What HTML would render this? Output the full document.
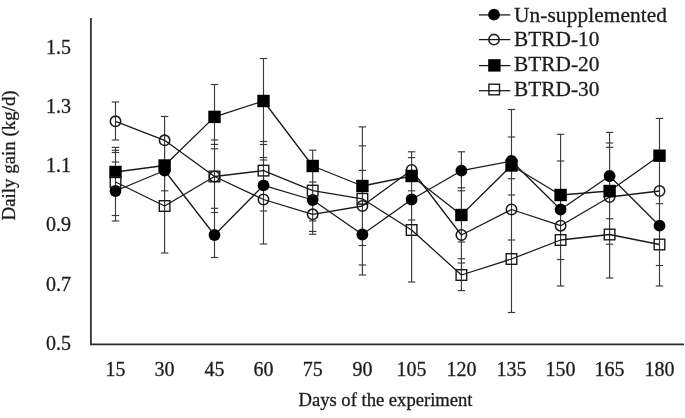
<!DOCTYPE html>
<html lang="en"><head><meta charset="utf-8"><title>Daily gain chart</title>
<style>html,body{margin:0;padding:0;background:#fff}body{width:685px;height:418px;overflow:hidden}svg{display:block;filter:grayscale(1)}text{font-family:"Liberation Serif","Times New Roman",serif;fill:#1c1c1c;stroke:#1c1c1c;stroke-width:.3px}</style></head><body>
<svg width="685" height="418" viewBox="0 0 685 418">
<rect width="685" height="418" fill="#fff"/>
<g stroke="#3a3a3a" stroke-width="1.15" fill="none">
<line x1="115.5" y1="102.0" x2="115.5" y2="140.0"/>
<line x1="115.5" y1="147.4" x2="115.5" y2="221.0"/>
<line x1="111.8" y1="102.0" x2="119.2" y2="102.0"/>
<line x1="111.8" y1="140.0" x2="119.2" y2="140.0"/>
<line x1="111.8" y1="147.4" x2="119.2" y2="147.4"/>
<line x1="111.8" y1="150.3" x2="119.2" y2="150.3"/>
<line x1="111.8" y1="152.5" x2="119.2" y2="152.5"/>
<line x1="111.8" y1="162.0" x2="119.2" y2="162.0"/>
<line x1="111.8" y1="215.5" x2="119.2" y2="215.5"/>
<line x1="111.8" y1="221.0" x2="119.2" y2="221.0"/>
<line x1="164.6" y1="116.5" x2="164.6" y2="253.0"/>
<line x1="160.9" y1="116.5" x2="168.3" y2="116.5"/>
<line x1="160.9" y1="190.8" x2="168.3" y2="190.8"/>
<line x1="160.9" y1="253.0" x2="168.3" y2="253.0"/>
<line x1="214.5" y1="84.5" x2="214.5" y2="257.5"/>
<line x1="210.8" y1="84.5" x2="218.2" y2="84.5"/>
<line x1="210.8" y1="140.0" x2="218.2" y2="140.0"/>
<line x1="210.8" y1="144.4" x2="218.2" y2="144.4"/>
<line x1="210.8" y1="148.8" x2="218.2" y2="148.8"/>
<line x1="210.8" y1="208.3" x2="218.2" y2="208.3"/>
<line x1="210.8" y1="212.5" x2="218.2" y2="212.5"/>
<line x1="210.8" y1="257.5" x2="218.2" y2="257.5"/>
<line x1="263.5" y1="58.5" x2="263.5" y2="244.0"/>
<line x1="259.8" y1="58.5" x2="267.2" y2="58.5"/>
<line x1="259.8" y1="141.5" x2="267.2" y2="141.5"/>
<line x1="259.8" y1="144.5" x2="267.2" y2="144.5"/>
<line x1="259.8" y1="157.5" x2="267.2" y2="157.5"/>
<line x1="259.8" y1="160.0" x2="267.2" y2="160.0"/>
<line x1="259.8" y1="211.0" x2="267.2" y2="211.0"/>
<line x1="259.8" y1="244.0" x2="267.2" y2="244.0"/>
<line x1="312.7" y1="150.2" x2="312.7" y2="234.3"/>
<line x1="309.0" y1="150.2" x2="316.4" y2="150.2"/>
<line x1="309.0" y1="182.0" x2="316.4" y2="182.0"/>
<line x1="309.0" y1="221.0" x2="316.4" y2="221.0"/>
<line x1="309.0" y1="231.4" x2="316.4" y2="231.4"/>
<line x1="309.0" y1="234.3" x2="316.4" y2="234.3"/>
<line x1="362.4" y1="126.9" x2="362.4" y2="275.0"/>
<line x1="358.7" y1="126.9" x2="366.1" y2="126.9"/>
<line x1="358.7" y1="145.8" x2="366.1" y2="145.8"/>
<line x1="358.7" y1="170.4" x2="366.1" y2="170.4"/>
<line x1="358.7" y1="245.5" x2="366.1" y2="245.5"/>
<line x1="358.7" y1="265.0" x2="366.1" y2="265.0"/>
<line x1="358.7" y1="275.0" x2="366.1" y2="275.0"/>
<line x1="411.6" y1="151.8" x2="411.6" y2="282.0"/>
<line x1="407.9" y1="151.8" x2="415.3" y2="151.8"/>
<line x1="407.9" y1="157.6" x2="415.3" y2="157.6"/>
<line x1="407.9" y1="190.8" x2="415.3" y2="190.8"/>
<line x1="407.9" y1="220.0" x2="415.3" y2="220.0"/>
<line x1="407.9" y1="282.0" x2="415.3" y2="282.0"/>
<line x1="461.4" y1="151.8" x2="461.4" y2="290.6"/>
<line x1="457.7" y1="151.8" x2="465.1" y2="151.8"/>
<line x1="457.7" y1="187.8" x2="465.1" y2="187.8"/>
<line x1="457.7" y1="190.8" x2="465.1" y2="190.8"/>
<line x1="457.7" y1="242.0" x2="465.1" y2="242.0"/>
<line x1="457.7" y1="258.7" x2="465.1" y2="258.7"/>
<line x1="457.7" y1="263.0" x2="465.1" y2="263.0"/>
<line x1="457.7" y1="290.6" x2="465.1" y2="290.6"/>
<line x1="511.5" y1="109.5" x2="511.5" y2="312.5"/>
<line x1="507.8" y1="109.5" x2="515.2" y2="109.5"/>
<line x1="507.8" y1="137.0" x2="515.2" y2="137.0"/>
<line x1="507.8" y1="178.7" x2="515.2" y2="178.7"/>
<line x1="507.8" y1="195.0" x2="515.2" y2="195.0"/>
<line x1="507.8" y1="240.0" x2="515.2" y2="240.0"/>
<line x1="507.8" y1="312.5" x2="515.2" y2="312.5"/>
<line x1="560.6" y1="134.3" x2="560.6" y2="286.0"/>
<line x1="556.9" y1="134.3" x2="564.3" y2="134.3"/>
<line x1="556.9" y1="161.0" x2="564.3" y2="161.0"/>
<line x1="556.9" y1="259.5" x2="564.3" y2="259.5"/>
<line x1="556.9" y1="286.0" x2="564.3" y2="286.0"/>
<line x1="609.6" y1="132.4" x2="609.6" y2="278.0"/>
<line x1="605.9" y1="132.4" x2="613.3" y2="132.4"/>
<line x1="605.9" y1="143.0" x2="613.3" y2="143.0"/>
<line x1="605.9" y1="147.3" x2="613.3" y2="147.3"/>
<line x1="605.9" y1="218.7" x2="613.3" y2="218.7"/>
<line x1="605.9" y1="244.2" x2="613.3" y2="244.2"/>
<line x1="605.9" y1="278.0" x2="613.3" y2="278.0"/>
<line x1="659.5" y1="118.4" x2="659.5" y2="286.0"/>
<line x1="655.8" y1="118.4" x2="663.2" y2="118.4"/>
<line x1="655.8" y1="203.7" x2="663.2" y2="203.7"/>
<line x1="655.8" y1="265.5" x2="663.2" y2="265.5"/>
<line x1="655.8" y1="286.0" x2="663.2" y2="286.0"/>
</g>
<g stroke="#2a2a2a" stroke-width="1.7" fill="none"><path d="M90.9 17.9V344.3H684"/></g>
<g stroke="#1a1a1a" stroke-width="1.3" fill="none" stroke-linejoin="round">
<polyline points="115.5,191.0 164.6,170.5 214.5,235.0 263.5,185.4 312.7,200.0 362.4,234.5 411.6,199.5 461.4,170.7 511.5,161.0 560.6,209.5 609.6,176.0 659.5,225.7"/>
<polyline points="115.5,121.3 164.6,140.3 214.5,176.5 263.5,199.5 312.7,214.3 362.4,206.0 411.6,170.0 461.4,235.0 511.5,209.5 560.6,225.7 609.6,197.0 659.5,191.0"/>
<polyline points="115.5,172.0 164.6,165.5 214.5,116.9 263.5,101.0 312.7,166.0 362.4,186.0 411.6,176.0 461.4,215.0 511.5,165.5 560.6,195.0 609.6,191.0 659.5,155.7"/>
<polyline points="115.5,182.0 164.6,206.0 214.5,176.5 263.5,170.6 312.7,190.6 362.4,198.8 411.6,230.0 461.4,275.0 511.5,259.0 560.6,240.0 609.6,234.5 659.5,244.5"/>
</g>
<g>
<circle cx="115.5" cy="191.0" r="5.9" fill="#000"/>
<circle cx="164.6" cy="170.5" r="5.9" fill="#000"/>
<circle cx="214.5" cy="235.0" r="5.9" fill="#000"/>
<circle cx="263.5" cy="185.4" r="5.9" fill="#000"/>
<circle cx="312.7" cy="200.0" r="5.9" fill="#000"/>
<circle cx="362.4" cy="234.5" r="5.9" fill="#000"/>
<circle cx="411.6" cy="199.5" r="5.9" fill="#000"/>
<circle cx="461.4" cy="170.7" r="5.9" fill="#000"/>
<circle cx="511.5" cy="161.0" r="5.9" fill="#000"/>
<circle cx="560.6" cy="209.5" r="5.9" fill="#000"/>
<circle cx="609.6" cy="176.0" r="5.9" fill="#000"/>
<circle cx="659.5" cy="225.7" r="5.9" fill="#000"/>
</g>
<g>
<circle cx="115.5" cy="121.3" r="5.2" fill="none" stroke="#1a1a1a" stroke-width="1.55"/>
<circle cx="164.6" cy="140.3" r="5.2" fill="none" stroke="#1a1a1a" stroke-width="1.55"/>
<circle cx="214.5" cy="176.5" r="5.2" fill="none" stroke="#1a1a1a" stroke-width="1.55"/>
<circle cx="263.5" cy="199.5" r="5.2" fill="none" stroke="#1a1a1a" stroke-width="1.55"/>
<circle cx="312.7" cy="214.3" r="5.2" fill="none" stroke="#1a1a1a" stroke-width="1.55"/>
<circle cx="362.4" cy="206.0" r="5.2" fill="none" stroke="#1a1a1a" stroke-width="1.55"/>
<circle cx="411.6" cy="170.0" r="5.2" fill="none" stroke="#1a1a1a" stroke-width="1.55"/>
<circle cx="461.4" cy="235.0" r="5.2" fill="none" stroke="#1a1a1a" stroke-width="1.55"/>
<circle cx="511.5" cy="209.5" r="5.2" fill="none" stroke="#1a1a1a" stroke-width="1.55"/>
<circle cx="560.6" cy="225.7" r="5.2" fill="none" stroke="#1a1a1a" stroke-width="1.55"/>
<circle cx="609.6" cy="197.0" r="5.2" fill="none" stroke="#1a1a1a" stroke-width="1.55"/>
<circle cx="659.5" cy="191.0" r="5.2" fill="none" stroke="#1a1a1a" stroke-width="1.55"/>
</g>
<g>
<rect x="109.3" y="165.8" width="12.4" height="12.4" fill="#000"/>
<rect x="158.4" y="159.3" width="12.4" height="12.4" fill="#000"/>
<rect x="208.3" y="110.7" width="12.4" height="12.4" fill="#000"/>
<rect x="257.3" y="94.8" width="12.4" height="12.4" fill="#000"/>
<rect x="306.5" y="159.8" width="12.4" height="12.4" fill="#000"/>
<rect x="356.2" y="179.8" width="12.4" height="12.4" fill="#000"/>
<rect x="405.4" y="169.8" width="12.4" height="12.4" fill="#000"/>
<rect x="455.2" y="208.8" width="12.4" height="12.4" fill="#000"/>
<rect x="505.3" y="159.3" width="12.4" height="12.4" fill="#000"/>
<rect x="554.4" y="188.8" width="12.4" height="12.4" fill="#000"/>
<rect x="603.4" y="184.8" width="12.4" height="12.4" fill="#000"/>
<rect x="653.3" y="149.5" width="12.4" height="12.4" fill="#000"/>
</g>
<g>
<rect x="110.2" y="176.7" width="10.6" height="10.6" fill="none" stroke="#1a1a1a" stroke-width="1.4"/>
<rect x="159.3" y="200.7" width="10.6" height="10.6" fill="none" stroke="#1a1a1a" stroke-width="1.4"/>
<rect x="209.2" y="171.2" width="10.6" height="10.6" fill="none" stroke="#1a1a1a" stroke-width="1.4"/>
<rect x="258.2" y="165.3" width="10.6" height="10.6" fill="none" stroke="#1a1a1a" stroke-width="1.4"/>
<rect x="307.4" y="185.3" width="10.6" height="10.6" fill="none" stroke="#1a1a1a" stroke-width="1.4"/>
<rect x="357.1" y="193.5" width="10.6" height="10.6" fill="none" stroke="#1a1a1a" stroke-width="1.4"/>
<rect x="406.3" y="224.7" width="10.6" height="10.6" fill="none" stroke="#1a1a1a" stroke-width="1.4"/>
<rect x="456.1" y="269.7" width="10.6" height="10.6" fill="none" stroke="#1a1a1a" stroke-width="1.4"/>
<rect x="506.2" y="253.7" width="10.6" height="10.6" fill="none" stroke="#1a1a1a" stroke-width="1.4"/>
<rect x="555.3" y="234.7" width="10.6" height="10.6" fill="none" stroke="#1a1a1a" stroke-width="1.4"/>
<rect x="604.3" y="229.2" width="10.6" height="10.6" fill="none" stroke="#1a1a1a" stroke-width="1.4"/>
<rect x="654.2" y="239.2" width="10.6" height="10.6" fill="none" stroke="#1a1a1a" stroke-width="1.4"/>
</g>
<g font-size="20" text-anchor="end">
<text x="71" y="53.5">1.5</text>
<text x="71" y="112.8">1.3</text>
<text x="71" y="172.0">1.1</text>
<text x="71" y="231.2">0.9</text>
<text x="71" y="290.5">0.7</text>
<text x="71" y="349.8">0.5</text>
</g>
<g font-size="20" text-anchor="middle">
<text x="115.5" y="375.5">15</text>
<text x="164.6" y="375.5">30</text>
<text x="214.5" y="375.5">45</text>
<text x="263.5" y="375.5">60</text>
<text x="312.7" y="375.5">75</text>
<text x="362.4" y="375.5">90</text>
<text x="411.6" y="375.5">105</text>
<text x="461.4" y="375.5">120</text>
<text x="511.5" y="375.5">135</text>
<text x="560.6" y="375.5">150</text>
<text x="609.6" y="375.5">165</text>
<text x="659.5" y="375.5">180</text>
</g>
<text x="385.5" y="405.9" font-size="18.6" text-anchor="middle">Days of the experiment</text>
<text transform="translate(15.3 155.4) rotate(-90)" font-size="18.9" text-anchor="middle" stroke="none" fill="#2a2a2a">Daily gain (kg/d)</text>
<g font-size="21.33">
<line x1="479" y1="14.9" x2="510.3" y2="14.9" stroke="#1a1a1a" stroke-width="1.3"/>
<circle cx="494.0" cy="14.7" r="5.9" fill="#000"/>
<text x="514" y="21.7" letter-spacing="0.1">Un-supplemented</text>
<line x1="479" y1="39.6" x2="510.3" y2="39.6" stroke="#1a1a1a" stroke-width="1.3"/>
<circle cx="494.0" cy="39.6" r="5.2" fill="none" stroke="#1a1a1a" stroke-width="1.55"/>
<text x="514" y="45.5">BTRD-10</text>
<line x1="479" y1="65.6" x2="510.3" y2="65.6" stroke="#1a1a1a" stroke-width="1.3"/>
<rect x="488.2" y="59.2" width="12.4" height="12.4" fill="#000"/>
<text x="514" y="70.9">BTRD-20</text>
<line x1="479" y1="90.7" x2="510.3" y2="90.7" stroke="#1a1a1a" stroke-width="1.3"/>
<rect x="488.9" y="84.2" width="10.6" height="10.6" fill="none" stroke="#1a1a1a" stroke-width="1.4"/>
<text x="514" y="95.5">BTRD-30</text>
</g>
</svg></body></html>
